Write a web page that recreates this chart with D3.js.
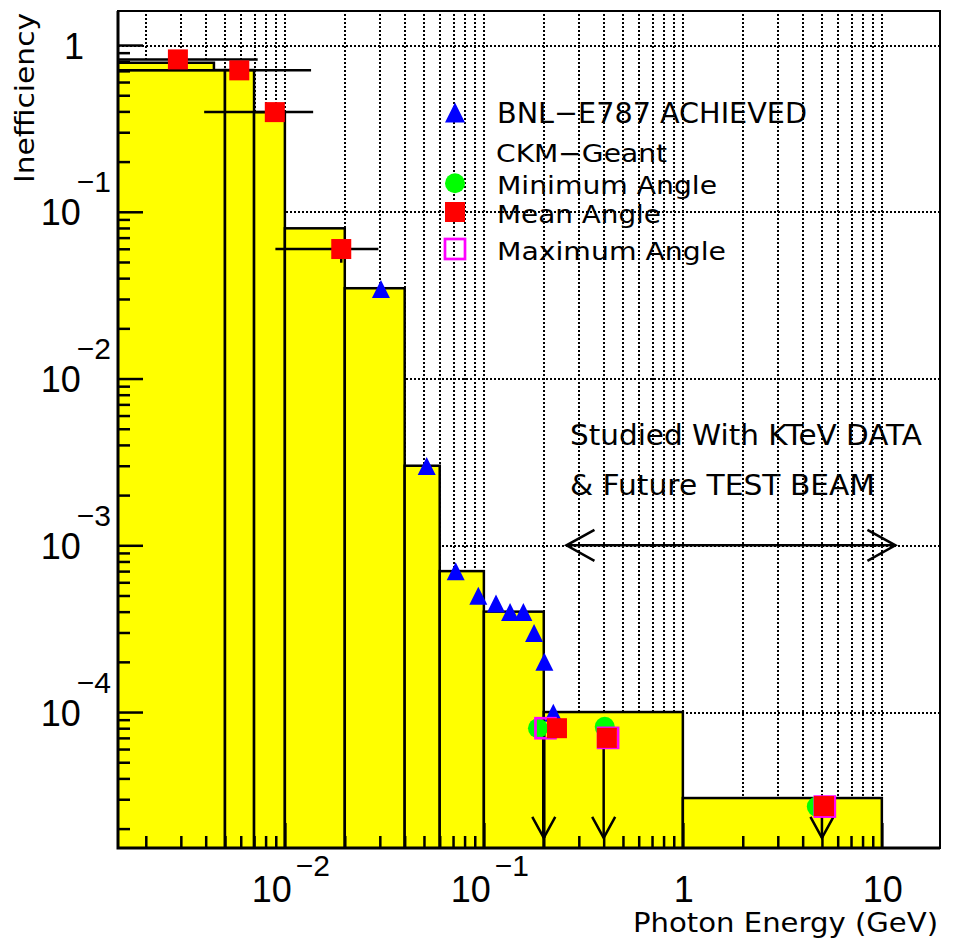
<!DOCTYPE html>
<html><head><meta charset="utf-8">
<script src="https://cdn.jsdelivr.net/npm/d3@7"></script>
<style>
body{margin:0;background:#fff}
svg{display:block}
text{font-family:"Liberation Sans",Arial,sans-serif;fill:#000}
text.w{font-family:"DejaVu Sans",sans-serif}
</style>
</head><body>
<svg id="c" width="957" height="943"></svg>
<script>
// ---------------- data ----------------
const binLo  = [0.001, 0.005, 0.007, 0.01, 0.02, 0.04, 0.06, 0.1, 0.2, 1];
const binHi  = [0.005, 0.007, 0.01, 0.02, 0.04, 0.06, 0.1, 0.2, 1, 10];
const binVal = [0.708, 0.708, 0.396, 0.0796, 0.0348, 0.0030, 0.0007, 0.0004, 0.0001, 3.05e-5];
const stepLo = [0.001], stepHi = [0.0044], stepVal = [0.783];

const bnlX = [0.0304, 0.0516, 0.0722, 0.0938, 0.1151, 0.1354, 0.158, 0.1788, 0.2014, 0.2234];
const bnlY = [0.0344, 0.00299, 0.000699, 0.000499, 0.000448, 0.000398, 0.000398, 0.000298, 0.000200, 0.0000992];

const minX = [0.187, 0.405, 4.71];
const minY = [8.0e-5, 8.15e-5, 2.71e-5];

const meanX   = [0.0029, 0.0059, 0.0089, 0.0192, 0.233, 0.415, 5.12];
const meanY   = [0.82, 0.705, 0.396, 0.0598, 8.0e-5, 7.0e-5, 2.73e-5];
const meanXLo = [0.001, 0.001, 0.00393, 0.00896, null, null, null];
const meanXHi = [0.0073, 0.01354, 0.01387, 0.0295, null, null, null];
const meanYLo = [null, null, null, 0.0495, null, null, null];

const maxX = [0.204, 0.421, 5.17];
const maxY = [8.0e-5, 7.0e-5, 2.71e-5];

const limX   = [0.2, 0.4, 5.0];
const limTop = [8.0e-5, 7.0e-5, 2.71e-5];
const limTip = [1.76e-5, 1.76e-5, 1.76e-5];

const rangeX = [0.26, 11.7];
const rangeY = [1e-3];

const xMajor = [0.01, 0.1, 1, 10];
const xMajorLabel = [["10","\u22122"], ["10","\u22121"], ["1",""], ["10",""]];
const yMajor = [1, 0.1, 0.01, 0.001, 0.0001];
const yMajorLabel = [["1",""], ["10","\u22121"], ["10","\u22122"], ["10","\u22123"], ["10","\u22124"]];

const legendLabels = ["BNL\u2212E787 ACHIEVED", "CKM\u2212Geant", "Minimum Angle", "Mean Angle", "Maximum Angle"];
const noteLabels = ["Studied With KTeV DATA", "& Future TEST BEAM"];
const xTitle = "Photon Energy (GeV)";
const yTitle = "Inefficiency";

// ---------------- layout ----------------
const L = 118, R = 940, T = 11, B = 848;
const x = d3.scaleLog().domain([0.00145, 19.6]).range([L, R]);
const y = d3.scaleLog().domain([1.53e-5, 1.6]).range([B, T]);

const svg = d3.select("#c");
svg.append("rect").attr("width", 957).attr("height", 943).attr("fill", "#fff");
svg.append("defs").append("clipPath").attr("id", "pa")
  .append("rect").attr("x", L).attr("y", T).attr("width", R - L).attr("height", B - T);
const plot = svg.append("g").attr("clip-path", "url(#pa)");

function logTicks(sc) {
  const [a, b] = sc.domain();
  const out = [];
  for (let k = -6; k <= 2; k++) for (let m = 1; m <= 9; m++) {
    const v = m * Math.pow(10, k);
    if (v >= a && v <= b) out.push(v);
  }
  return out;
}
const xAll = logTicks(x), yAll = logTicks(y);
const isMajor = v => Math.abs(Math.log10(v) - Math.round(Math.log10(v))) < 1e-9;

// grid
const dash = "2,2";
const gx = plot.append("g").attr("transform", `translate(0,${B})`)
  .call(d3.axisBottom(x).tickValues(xAll).tickSize(-(B - T)).tickFormat(""));
gx.select(".domain").remove();
gx.selectAll("line").attr("stroke", "#000").attr("stroke-width", 2)
  .attr("stroke-dasharray", dash).attr("shape-rendering", "crispEdges");
const gy = plot.append("g").attr("transform", `translate(${L},0)`)
  .call(d3.axisLeft(y).tickValues(yMajor).tickSize(-(R - L)).tickFormat(""));
gy.select(".domain").remove();
gy.selectAll("line").attr("stroke", "#000").attr("stroke-width", 2)
  .attr("stroke-dasharray", dash).attr("shape-rendering", "crispEdges");

// histogram
const bins = binLo.map((lo, i) => ({lo, hi: binHi[i], v: binVal[i]}));
plot.selectAll("rect.bin").data(bins).join("rect").attr("class", "bin")
  .attr("x", d => x(d.lo)).attr("width", d => x(d.hi) - x(d.lo))
  .attr("y", d => y(d.v)).attr("height", d => B + 5 - y(d.v))
  .attr("fill", "#ffff00").attr("stroke", "#000").attr("stroke-width", 2.5);
stepLo.forEach((lo, i) => {
  plot.append("rect").attr("x", x(lo)).attr("width", x(stepHi[i]) - x(lo))
    .attr("y", y(stepVal[i])).attr("height", y(binVal[0]) - y(stepVal[i]))
    .attr("fill", "#ffff00");
  plot.append("path")
    .attr("d", `M${x(lo)},${y(stepVal[i])}H${x(stepHi[i])}V${y(binVal[0])}`)
    .attr("fill", "none").attr("stroke", "#000").attr("stroke-width", 2.5);
});

// error bars on mean markers
meanX.forEach((v, i) => {
  if (meanXLo[i] != null)
    plot.append("line").attr("x1", x(meanXLo[i])).attr("x2", x(meanXHi[i]))
      .attr("y1", y(meanY[i])).attr("y2", y(meanY[i]))
      .attr("stroke", "#000").attr("stroke-width", 2.5);
  if (meanYLo[i] != null)
    plot.append("line").attr("x1", x(v)).attr("x2", x(v))
      .attr("y1", y(meanY[i])).attr("y2", y(meanYLo[i]))
      .attr("stroke", "#000").attr("stroke-width", 2.5);
});

// upper-limit arrows
const limW = [3.5, 2.5, 2.5];
limX.forEach((v, i) => {
  const xa = x(v), t = y(limTip[i]);
  plot.append("line").attr("x1", xa).attr("x2", xa).attr("y1", y(limTop[i])).attr("y2", t)
    .attr("stroke", "#000").attr("stroke-width", limW[i]);
  plot.append("path").attr("d", `M${xa - 11.5},${t - 21}L${xa},${t}L${xa + 11.5},${t - 21}`)
    .attr("fill", "none").attr("stroke", "#000").attr("stroke-width", 2.5);
});

// markers
const tri = (cx, cy, s) => `M${cx},${cy - s / 2}L${cx + s / 2},${cy + s / 2}L${cx - s / 2},${cy + s / 2}Z`;
plot.selectAll("path.bnl").data(bnlX).join("path").attr("class", "bnl")
  .attr("d", (v, i) => tri(x(v), y(bnlY[i]), 18)).attr("fill", "#0000ff");
plot.selectAll("circle.min").data(minX).join("circle").attr("class", "min")
  .attr("cx", v => x(v)).attr("cy", (v, i) => y(minY[i])).attr("r", 10).attr("fill", "#00ff00");
plot.selectAll("rect.max").data(maxX).join("rect").attr("class", "max")
  .attr("x", v => x(v) - 10).attr("y", (v, i) => y(maxY[i]) - 10)
  .attr("width", 20).attr("height", 20)
  .attr("fill", "none").attr("stroke", "#ff00ff").attr("stroke-width", 2.7);
plot.selectAll("rect.mean").data(meanX).join("rect").attr("class", "mean")
  .attr("x", v => x(v) - 10).attr("y", (v, i) => y(meanY[i]) - 10)
  .attr("width", 20).attr("height", 20).attr("fill", "#ff0000");

// range arrow
{
  const x1 = x(rangeX[0]), x2 = x(rangeX[1]), yy = y(rangeY[0]);
  const g = svg.append("g").attr("fill", "none").attr("stroke", "#000").attr("stroke-width", 2.5);
  g.append("line").attr("x1", x1).attr("x2", x2).attr("y1", yy).attr("y2", yy);
  g.append("path").attr("d", `M${x1 + 28},${yy - 15.5}L${x1},${yy}L${x1 + 28},${yy + 15.5}`);
  g.append("path").attr("d", `M${x2 - 28},${yy - 15.5}L${x2},${yy}L${x2 - 28},${yy + 15.5}`);
}

// axes ticks (inward)
function tickAxis(axisFn, sc, vals, len, tr) {
  const g = svg.append("g").attr("transform", tr)
    .call(axisFn(sc).tickValues(vals).tickSize(-len).tickFormat(""));
  g.select(".domain").remove();
  g.selectAll("line").attr("stroke", "#000").attr("stroke-width", 2.5);
}
tickAxis(d3.axisBottom, x, xAll.filter(v => !isMajor(v)), 12, `translate(0,${B})`);
tickAxis(d3.axisBottom, x, xAll.filter(isMajor), 25, `translate(0,${B})`);
tickAxis(d3.axisLeft, y, yAll.filter(v => !isMajor(v)), 12, `translate(${L},0)`);
tickAxis(d3.axisLeft, y, yAll.filter(isMajor), 25, `translate(${L},0)`);

// frame
svg.append("rect").attr("x", L).attr("y", T).attr("width", R - L).attr("height", B - T)
  .attr("fill", "none").attr("stroke", "#000").attr("stroke-width", 2);
svg.append("path").attr("d", `M${L},${T}V${B}H${R}`).attr("fill", "none")
  .attr("stroke", "#000").attr("stroke-width", 3);

// x tick labels
xMajor.forEach((v, i) => {
  const [base, sup] = xMajorLabel[i];
  const t = svg.append("text").attr("x", x(v) + (sup ? 6 : 1)).attr("y", 902)
    .attr("text-anchor", "middle").attr("font-size", 36);
  t.append("tspan").text(base);
  if (sup) t.append("tspan").attr("dx", 4).attr("dy", -26).attr("font-size", 30).text(sup);
});
// y tick labels
yMajor.forEach((v, i) => {
  const [base, sup] = yMajorLabel[i];
  const t = svg.append("text").attr("x", sup ? 111 : 84).attr("y", y(v) + 13.5)
    .attr("text-anchor", "end").attr("font-size", 36);
  t.append("tspan").text(base);
  if (sup) t.append("tspan").attr("dx", -4).attr("dy", -33).attr("font-size", 30).text(sup);
});

// axis titles
const LA = "spacingAndGlyphs";
svg.append("text").attr("class", "w").attr("x", 938).attr("y", 932).attr("text-anchor", "end")
  .attr("font-size", 27).attr("textLength", 305).attr("lengthAdjust", LA).text(xTitle);
svg.append("text").attr("class", "w").attr("transform", "translate(34,13) rotate(-90)").attr("text-anchor", "end")
  .attr("font-size", 27).attr("textLength", 170).attr("lengthAdjust", LA).text(yTitle);

// legend
const lgX = 455, txX = 497;
const lgBase = [123, 162, 194, 222.5, 260];
const lgSize = [29, 25, 25, 25, 25];
const lgLen = [310, 171, 220, 164, 229];
legendLabels.forEach((s, i) => {
  svg.append("text").attr("class", "w").attr("x", i === 1 ? txX - 1 : txX).attr("y", lgBase[i])
    .attr("font-size", lgSize[i]).attr("textLength", lgLen[i]).attr("lengthAdjust", LA).text(s);
});
svg.append("path").attr("d", tri(lgX, 112.5, 20)).attr("fill", "#0000ff");
svg.append("circle").attr("cx", lgX).attr("cy", 183.3).attr("r", 10).attr("fill", "#00ff00");
svg.append("rect").attr("x", lgX - 10).attr("y", 202).attr("width", 20).attr("height", 20).attr("fill", "#ff0000");
svg.append("rect").attr("x", lgX - 10).attr("y", 239).attr("width", 20).attr("height", 20)
  .attr("fill", "none").attr("stroke", "#ff00ff").attr("stroke-width", 2.7);

// annotation
const noteBase = [445, 495], noteLen = [352, 305];
noteLabels.forEach((s, i) => {
  svg.append("text").attr("class", "w").attr("x", 570).attr("y", noteBase[i]).attr("font-size", 28)
    .attr("textLength", noteLen[i]).attr("lengthAdjust", LA).text(s);
});
</script>
</body></html>
